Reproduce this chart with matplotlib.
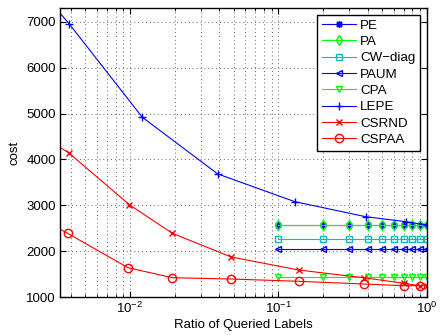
import numpy as np
import matplotlib.pyplot as plt
from matplotlib.ticker import LogLocator, NullFormatter, MultipleLocator

plt.rcParams['font.family'] = ['Liberation Sans', 'DejaVu Sans']
plt.rcParams['font.size'] = 9.5

# data
ratio_flat = [0.1, 0.2, 0.3, 0.4, 0.5, 0.6, 0.7, 0.8, 0.9, 1.0]
pe = [2560] * 10
pa = [2560] * 10
cw_diag = [2270] * 10
paum = [2050] * 10
cpa = [1430] * 10

ratio_lepe = [0.0012, 0.0039, 0.0121, 0.039, 0.129, 0.386, 0.72, 1.0]
lepe = [8890, 6956, 4921, 3684, 3079, 2752, 2643, 2570]

ratio_csrnd = [0.0015, 0.0039, 0.0099, 0.0193, 0.048, 0.137, 0.375, 0.70, 0.9, 1.0]
csrnd = [5000, 4135, 3014, 2390, 1873, 1589, 1421, 1299, 1247, 1240]

ratio_cspaa = [0.0015, 0.0038, 0.0097, 0.0193, 0.048, 0.138, 0.375, 0.70, 0.9]
cspaa = [3100, 2390, 1640, 1421, 1393, 1342, 1284, 1247, 1247]

fig = plt.figure(figsize=(4.41, 3.36), dpi=100)
ax = fig.add_axes([0.136, 0.116, 0.832, 0.860])

lw = 0.8
ms = 5
ax.plot(ratio_flat, pe, color='b', marker=(8, 2, 0), lw=lw, ms=ms, label='PE')
ax.plot(ratio_flat, pa, color='#00ff00', marker='d', mfc='none', lw=lw, ms=ms, label='PA')
ax.plot(ratio_flat, cw_diag, color='c', marker='s', mfc='none', lw=lw, ms=ms - 0.5, label='CW\u2212diag')
ax.plot(ratio_flat, paum, color='b', marker='<', mfc='none', lw=lw, ms=ms, label='PAUM')
ax.plot(ratio_flat, cpa, color='#00ff00', marker='v', mfc='none', lw=lw, ms=ms, label='CPA')
ax.plot(ratio_lepe, lepe, color='b', marker='+', lw=lw, ms=ms + 1, label='LEPE')
ax.plot(ratio_csrnd, csrnd, color='r', marker='x', lw=lw, ms=ms - 1, label='CSRND')
ax.plot(ratio_cspaa, cspaa, color='r', marker='o', mfc='none', lw=lw, ms=ms + 1, label='CSPAA')

ax.set_xscale('log')
ax.set_xlim(0.00338, 1.0)
ax.set_ylim(1000, 7300)
ax.yaxis.set_major_locator(MultipleLocator(1000))
ax.xaxis.set_minor_locator(LogLocator(base=10, subs=np.arange(2, 10)))
ax.xaxis.set_minor_formatter(NullFormatter())

grid_style = dict(linestyle=(0, (1, 3)), color='#666666', lw=0.7)
ax.grid(True, which='major', **grid_style)
ax.grid(True, which='minor', axis='x', **grid_style)
ax.tick_params(which='both', direction='in', top=True, right=True)
ax.tick_params(which='major', length=4, pad=3)
ax.tick_params(which='minor', length=2)
for s in ax.spines.values():
    s.set_linewidth(1.0)

ax.set_xlabel('Ratio of Queried Labels', labelpad=2)
ax.set_ylabel('cost', labelpad=4)

leg = ax.legend(loc='upper right', fancybox=False, edgecolor='k', framealpha=1,
                borderaxespad=0.5, borderpad=0.35, handlelength=2.6, labelspacing=0.3,
                handletextpad=0.3, fontsize=9.6)
leg.get_frame().set_linewidth(1.0)

fig.savefig('out.png', dpi=100)
